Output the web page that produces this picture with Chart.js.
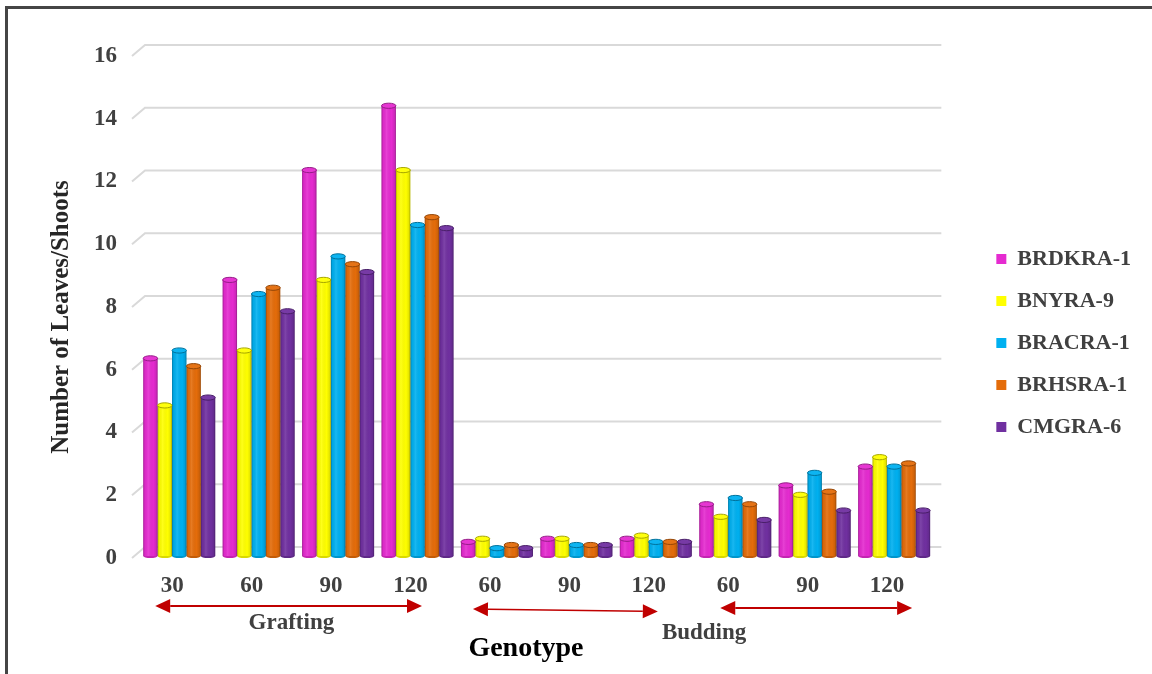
<!DOCTYPE html>
<html>
<head>
<meta charset="utf-8">
<script src="https://cdn.jsdelivr.net/npm/chart.js@4.4.1/dist/chart.umd.min.js"></script>
<style>
  html, body { margin: 0; padding: 0; background: #ffffff; overflow: hidden; }
  #wrap { position: relative; width: 1152px; height: 674px; overflow: hidden; }
  #frame { position: absolute; left: 5px; top: 6px; width: 1220px; height: 740px;
           border: 3px solid #454545; box-sizing: border-box; }
  #c { position: absolute; left: 0; top: 0; }
</style>
</head>
<body>
<div id="wrap">
  <div id="frame"></div>
  <canvas id="c" width="1152" height="674"></canvas>
</div>
<script>
// Days after propagation, first four grafting, then budding
const categories = ['30', '60', '90', '120', '60', '90', '120', '60', '90', '120'];

const seriesNames = ['BRDKRA-1', 'BNYRA-9', 'BRACRA-1', 'BRHSRA-1', 'CMGRA-6'];
const brdkra1 = [6.3, 8.8, 12.3, 14.35, 0.45, 0.55, 0.55, 1.65, 2.25, 2.85];
const bnyra9  = [4.8, 6.55, 8.8, 12.3, 0.55, 0.55, 0.65, 1.25, 1.95, 3.15];
const bracra1 = [6.55, 8.35, 9.55, 10.55, 0.25, 0.35, 0.45, 1.85, 2.65, 2.85];
const brhsra1 = [6.05, 8.55, 9.3, 10.8, 0.35, 0.35, 0.45, 1.65, 2.05, 2.95];
const cmgra6  = [5.05, 7.8, 9.05, 10.45, 0.25, 0.35, 0.45, 1.15, 1.45, 1.45];
const seriesValues = [brdkra1, bnyra9, bracra1, brhsra1, cmgra6];

const seriesColors = ['#E52BD0', '#FFFF00', '#00B0F0', '#E46C0A', '#7030A0'];

const yMin = 0, yMax = 16, yStep = 2;

const yTitle = 'Number of Leaves/Shoots';
const xTitle = 'Genotype';
const groupLabels = ['Grafting', 'Budding'];

const SERIF = "'Liberation Serif', 'Times New Roman', serif";
Chart.defaults.font.family = SERIF;

function shade(hex, f) {
  const n = parseInt(hex.slice(1), 16);
  let r = (n >> 16) & 255, g = (n >> 8) & 255, b = n & 255;
  if (f < 0) { r *= 1 + f; g *= 1 + f; b *= 1 + f; }
  else { r += (255 - r) * f; g += (255 - g) * f; b += (255 - b) * f; }
  return `rgb(${Math.round(r)},${Math.round(g)},${Math.round(b)})`;
}

// Back-wall gridlines with the short perspective stub on the left
const wallGrid = {
  id: 'wallGrid',
  beforeDatasetsDraw(chart) {
    const { ctx, chartArea } = chart;
    const ys = chart.scales.y;
    ctx.save();
    ctx.strokeStyle = '#d9d9d9';
    ctx.lineWidth = 2;
    for (let v = yMin; v <= yMax; v += yStep) {
      const py = ys.getPixelForValue(v);
      ctx.beginPath();
      ctx.moveTo(chartArea.left - 7.5, py + 2);
      ctx.lineTo(chartArea.left + 5.5, py - 9);
      ctx.lineTo(chartArea.right + 7.5, py - 9);
      ctx.stroke();
    }
    ctx.restore();
  }
};

// Cylinder shading and elliptical caps on every bar
const cylinders = {
  id: 'cylinders',
  afterDatasetsDraw(chart) {
    const { ctx } = chart;
    ctx.save();
    chart.data.datasets.forEach((ds, di) => {
      const meta = chart.getDatasetMeta(di);
      const col = seriesColors[di];
      meta.data.forEach(bar => {
        const { x, y, base, width } = bar.getProps(['x', 'y', 'base', 'width'], true);
        const l = x - width / 2;
        const g = ctx.createLinearGradient(l, 0, l + width, 0);
        g.addColorStop(0, 'rgba(0,0,0,0.30)');
        g.addColorStop(0.12, 'rgba(0,0,0,0.04)');
        g.addColorStop(0.35, 'rgba(255,255,255,0.10)');
        g.addColorStop(0.7, 'rgba(0,0,0,0)');
        g.addColorStop(0.9, 'rgba(0,0,0,0.10)');
        g.addColorStop(1, 'rgba(0,0,0,0.35)');
        ctx.fillStyle = g;
        ctx.fillRect(l, y, width, base - y);
        // rounded foot
        ctx.beginPath();
        ctx.ellipse(x, base, width / 2, 2, 0, 0, Math.PI);
        ctx.fillStyle = shade(col, -0.15);
        ctx.fill();
        // top cap
        ctx.beginPath();
        ctx.ellipse(x, y, width / 2, 2.6, 0, 0, Math.PI * 2);
        ctx.fillStyle = shade(col, 0.05);
        ctx.fill();
        ctx.lineWidth = 1;
        ctx.strokeStyle = shade(col, -0.35);
        ctx.stroke();
      });
    });
    ctx.restore();
  }
};

function arrow(ctx, x1, y1, x2, y2, lw) {
  const len = 15, half = 7;
  const a = Math.atan2(y2 - y1, x2 - x1);
  ctx.lineWidth = lw;
  ctx.beginPath();
  ctx.moveTo(x1 + Math.cos(a) * len, y1 + Math.sin(a) * len);
  ctx.lineTo(x2 - Math.cos(a) * len, y2 - Math.sin(a) * len);
  ctx.stroke();
  [[x1, y1, a + Math.PI], [x2, y2, a]].forEach(([tx, ty, ang]) => {
    ctx.beginPath();
    ctx.moveTo(tx, ty);
    ctx.lineTo(tx - Math.cos(ang) * len - Math.sin(ang) * half, ty - Math.sin(ang) * len + Math.cos(ang) * half);
    ctx.lineTo(tx - Math.cos(ang) * len + Math.sin(ang) * half, ty - Math.sin(ang) * len - Math.cos(ang) * half);
    ctx.closePath();
    ctx.fill();
  });
}

// Axis titles, group brackets and their names
const annotations = {
  id: 'annotations',
  afterDraw(chart) {
    const { ctx } = chart;
    const xs = chart.scales.x;
    const c = i => xs.getPixelForValue(i);
    ctx.save();
    ctx.strokeStyle = '#C00000';
    ctx.fillStyle = '#C00000';
    arrow(ctx, c(0) - 24, 606, c(3) + 4.5, 606, 2);
    arrow(ctx, c(4) - 24, 609, c(6) + 2, 611.5, 1.6);
    arrow(ctx, c(7) - 15, 608, c(9) + 18, 608, 2);

    ctx.textAlign = 'center';
    ctx.textBaseline = 'middle';
    ctx.fillStyle = '#404040';
    ctx.font = `bold 23px ${SERIF}`;
    ctx.fillText(groupLabels[0], (c(0) + c(3)) / 2 - 7, 623);
    ctx.fillText(groupLabels[1], (c(5) + c(6)) / 2 + 88, 633);

    ctx.fillStyle = '#000000';
    ctx.font = `bold 28px ${SERIF}`;
    ctx.fillText(xTitle, (c(3) + c(5)) / 2 + 29, 649);

    ctx.fillStyle = '#262626';
    ctx.font = `bold 25px ${SERIF}`;
    ctx.translate(62, 317);
    ctx.rotate(-Math.PI / 2);
    ctx.fillText(yTitle, 0, 0);
    ctx.restore();
  }
};

new Chart(document.getElementById('c'), {
  type: 'bar',
  data: {
    labels: categories,
    datasets: seriesNames.map((name, i) => ({
      label: name,
      data: seriesValues[i],
      backgroundColor: seriesColors[i],
      borderWidth: 0,
      categoryPercentage: 0.907,
      barPercentage: 1.0
    }))
  },
  options: {
    responsive: false,
    devicePixelRatio: 1,
    animation: false,
    layout: { padding: { top: 54, left: 0, right: 11, bottom: 42 } },
    plugins: {
      tooltip: { enabled: false },
      title: { display: false },
      legend: {
        position: 'right',
        align: 'center',
        labels: {
          boxWidth: 10,
          boxHeight: 10,
          padding: 20,
          color: '#404040',
          font: { family: SERIF, size: 22, weight: 'bold' }
        }
      }
    },
    scales: {
      x: {
        grid: { display: false, drawTicks: false },
        border: { display: false },
        ticks: {
          color: '#404040',
          font: { family: SERIF, size: 23, weight: 'bold' },
          padding: 16,
          labelOffset: -7,
          maxRotation: 0,
          autoSkip: false
        },
        afterFit(s) { s.height = 76; }
      },
      y: {
        min: yMin,
        max: yMax,
        grid: { display: false, drawTicks: false },
        border: { display: false },
        ticks: {
          stepSize: yStep,
          color: '#404040',
          font: { family: SERIF, size: 23, weight: 'bold' },
          padding: 22.5,
          labelOffset: 2
        },
        afterFit(s) { s.width = 139.5; }
      },
      gap: {
        type: 'linear',
        position: 'right',
        display: true,
        grid: { display: false, drawTicks: false },
        border: { display: false },
        ticks: { display: false },
        afterFit(s) { s.width = 42.5; }
      }
    }
  },
  plugins: [wallGrid, cylinders, annotations]
});
</script>
</body>
</html>
